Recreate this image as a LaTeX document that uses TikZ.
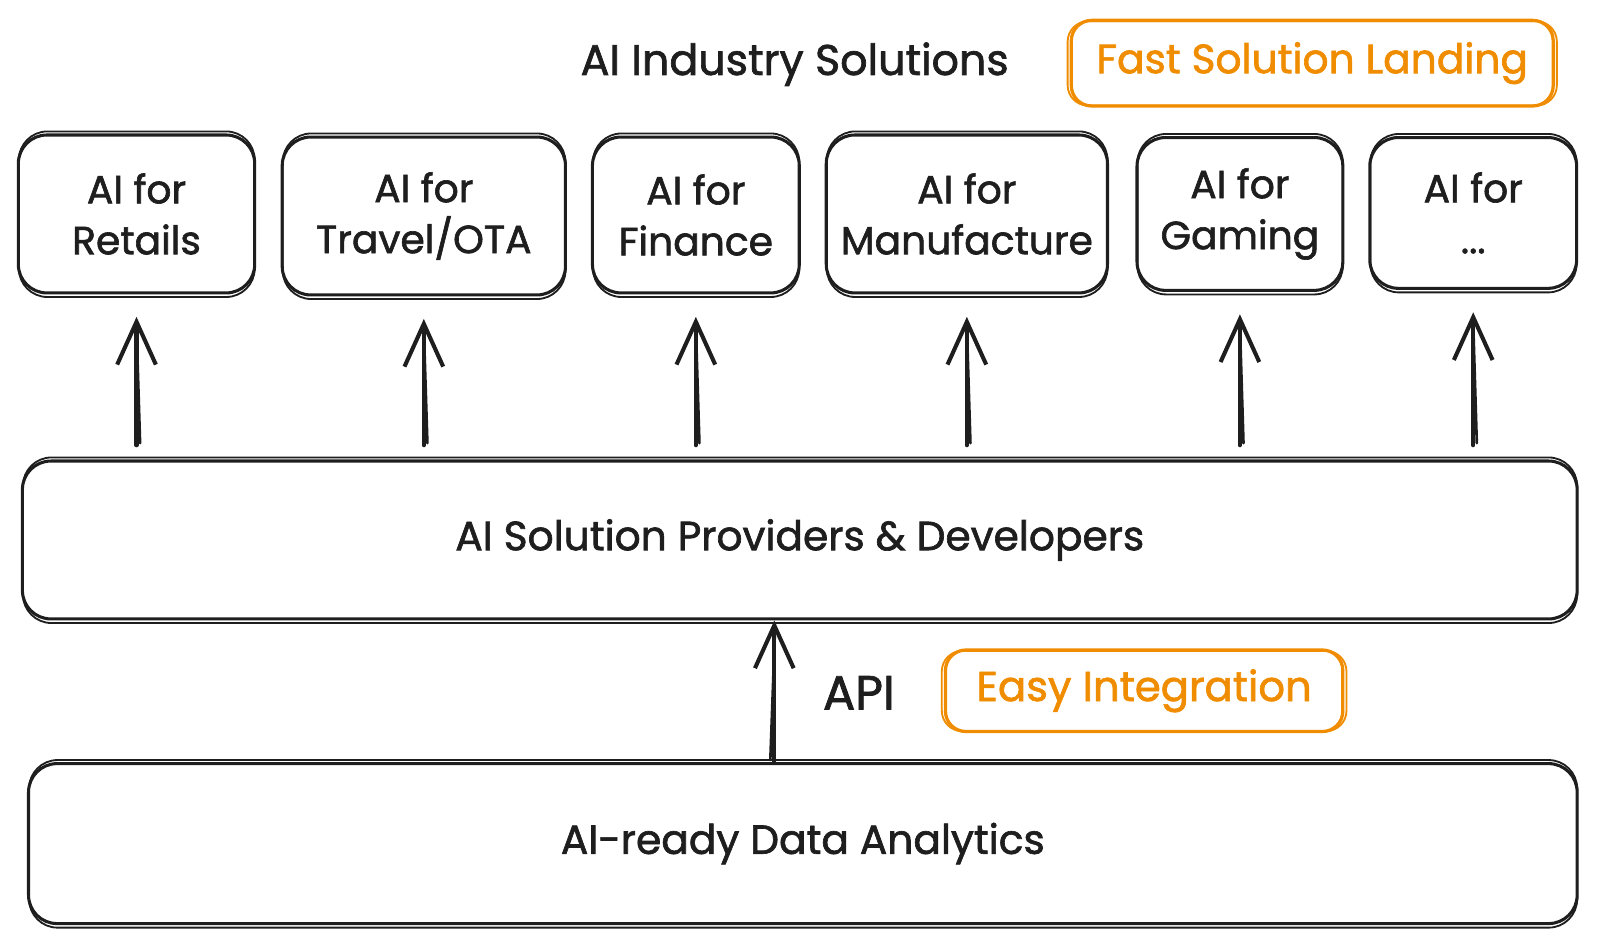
\documentclass[tikz,border=0pt]{standalone}
\usepackage{fontspec}
\setmainfont{Poppins}[RawFeature={embolden=1.6}]
\usetikzlibrary{arrows.meta}
\definecolor{ink}{HTML}{1E1E1E}
\definecolor{orng}{HTML}{F08C00}
\begin{document}
\begin{tikzpicture}[x=1pt,y=-1pt,
  box/.style={draw=ink, line width=3pt, rounded corners=28pt, inner sep=0pt, align=center,
    font=\fontsize{38.5}{50}\selectfont, text=ink},
  wide/.style={box, font=\fontsize{40}{50}\selectfont},
  obox/.style={draw=orng, line width=3.2pt, rounded corners=20pt, inner sep=0pt, align=center,
    font=\fontsize{40}{44}\selectfont, text=orng},
  sk/.style={draw=ink, line width=1.8pt, rounded corners=28pt},
  osk/.style={draw=orng, line width=1.8pt, rounded corners=20pt},
  lbl/.style={font=\fontsize{42}{44}\selectfont, text=ink, inner sep=0pt},
  arr/.style={draw=ink, line width=4pt, line cap=round, -{Straight Barb[length=42pt,width=38pt,line width=4pt]}},
  shaft/.style={draw=ink, line width=2.6pt, line cap=round},
]
\useasboundingbox (0,0) rectangle (1567.5,923.4);
% title and orange notes
\node[lbl] (title) at (780,63) {AI Industry Solutions};
\node[obox, minimum width=473pt, minimum height=84pt] (fast) at (1288,62) {Fast Solution Landing};
\node[obox, minimum width=390pt, minimum height=80pt, font=\fontsize{41}{44}\selectfont] (easy) at (1123,678) {Easy Integration};
% top boxes
\node[box, minimum width=232pt, minimum height=155pt] (retail) at (134,210) {AI for\\Retails};
\node[box, minimum width=278pt, minimum height=155pt] (travel) at (416,212) {AI for\\Travel/OTA};
\node[box, minimum width=203pt, minimum height=153pt] (fin) at (683,211) {AI for\\Finance};
\node[box, minimum width=276pt, minimum height=155pt] (manu) at (949,210) {AI for\\Manufacture};
\node[box, minimum width=202pt, minimum height=150pt] (game) at (1217,210) {AI for\\Gaming};
\node[box, minimum width=203pt, minimum height=148pt] (more) at (1446,209) {AI for\\...};
% middle and bottom
\node[wide, minimum width=1526pt, minimum height=155pt] (mid) at (785,530) {AI Solution Providers \& Developers};
\node[wide, minimum width=1520pt, minimum height=157pt] (bot) at (788,828) {AI-ready Data Analytics};
% second sketchy strokes
\foreach \b in {retail,travel,fin,manu,game,more,mid,bot}
  \draw[sk] ([shift={(2pt,-2.5pt)}]\b.south west) rectangle ([shift={(-1.5pt,2pt)}]\b.north east);
\foreach \b in {fast,easy}
  \draw[osk] ([shift={(-2pt,2pt)}]\b.south west) rectangle ([shift={(2pt,-2.5pt)}]\b.north east);
% arrows to top boxes
\foreach \b in {retail,travel,fin,manu,game,more}{
  \draw[arr, shorten <=14pt, shorten >=22pt] (\b.south |- mid.north) -- (\b.south);
  \draw[shaft, shorten <=16pt, shorten >=28pt] ([xshift=4pt]\b.south |- mid.north) -- ([xshift=-1pt]\b.south);
}
% API arrow
\coordinate (apix) at (760,0);
\draw[arr] (apix |- bot.north) -- (apix |- mid.south);
\draw[shaft, shorten <=2pt, shorten >=10pt] ([xshift=-4pt]apix |- bot.north) -- ([xshift=1pt]apix |- mid.south);
\node[lbl, font=\fontsize{47}{48}\selectfont] (api) at (843,680) {API};
\end{tikzpicture}
\end{document}
